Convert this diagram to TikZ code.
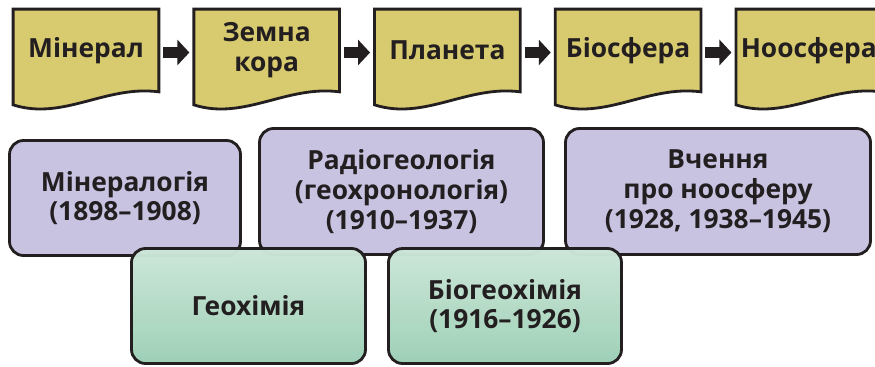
\documentclass[tikz,border=0pt]{standalone}
\usepackage{fontspec}
\setmainfont{Open Sans}
\usepackage{tikz}
\usetikzlibrary{positioning, arrows.meta, backgrounds}
\definecolor{docyellow}{HTML}{D8CA6E}
\definecolor{fieldlilac}{HTML}{C7C3E1}
\definecolor{greentop}{HTML}{CDEBD8}
\definecolor{greenbot}{HTML}{96D2AE}
\definecolor{ink}{HTML}{231F20}

\begin{document}
\begin{tikzpicture}[
% Stage (document) styles
    doc/.style={rectangle,minimum width=2.9cm,minimum height=1.64cm,
		inner sep=0pt,align=center,text=ink,
		font=\bfseries\fontsize{15}{17}\selectfont},
    docline/.style={line width=1.6pt,draw=ink,fill=docyellow},
% Field (rounded box) styles
    field/.style={rectangle,rounded corners=0.28cm,line width=1.6pt,
		draw=ink,fill=fieldlilac,align=center,text=ink,
		font=\bfseries\fontsize{15}{17}\selectfont},
    branch/.style={field,top color=greentop,bottom color=greenbot,
		fill opacity=0.85,text opacity=1},
% Arrow style
    flow/.style={line width=0.22cm,draw=ink,
		-{Triangle[length=0.24cm,width=0.5cm]}},
    node distance=0.7cm
    ]
   \path[use as bounding box,clip] (0,0) rectangle (17.5,-7.32);
%% Stages of matter
   \node (d1) [doc] at (1.72,-1.01) {Мінерал};
   \node (d2) [doc,right=of d1] {Земна\\кора};
   \node (d3) [doc,right=of d2] {Планета};
   \node (d4) [doc,right=of d3] {Біосфера};
   \node (d5) [doc,right=of d4] {Ноосфера};
   \begin{pgfonlayer}{background}
   \foreach \n in {d1,d2,d3,d4,d5}
      \path[docline] (\n.south east) -- (\n.north east) -- (\n.north west)
         -- ([yshift=-0.26cm]\n.south west)
         .. controls +(1.0,-0.32) and +(-1.06,0.14) .. (\n.south east)
         -- cycle;
   \end{pgfonlayer}
   \foreach \a/\b in {d1/d2,d2/d3,d3/d4,d4/d5}
      \draw[flow] ([xshift=0.09cm,yshift=-0.04cm]\a.east)
         -- ([xshift=-0.09cm,yshift=-0.04cm]\b.west);
%% Fields of study
   \node (min) [field,minimum width=4.62cm,minimum height=2.30cm]
      at (2.50,-3.96) {Мінералогія\\(1898–1908)};
   \node (rad) [field,minimum width=5.68cm,minimum height=2.52cm]
      at (8.03,-3.83) {Радіогеологія\\(геохронологія)\\(1910–1937)};
   \node (noo) [field,minimum width=6.10cm,minimum height=2.52cm]
      at (14.36,-3.83) {Вчення\\про ноосферу\\(1928, 1938–1945)};
   \node (geo) [branch,minimum width=4.68cm,minimum height=2.30cm]
      at (4.97,-6.12) {Геохімія};
   \node (bio) [branch,minimum width=4.66cm,minimum height=2.30cm]
      at (10.10,-6.12) {Біогеохімія\\(1916–1926)};
\end{tikzpicture}
\end{document}
